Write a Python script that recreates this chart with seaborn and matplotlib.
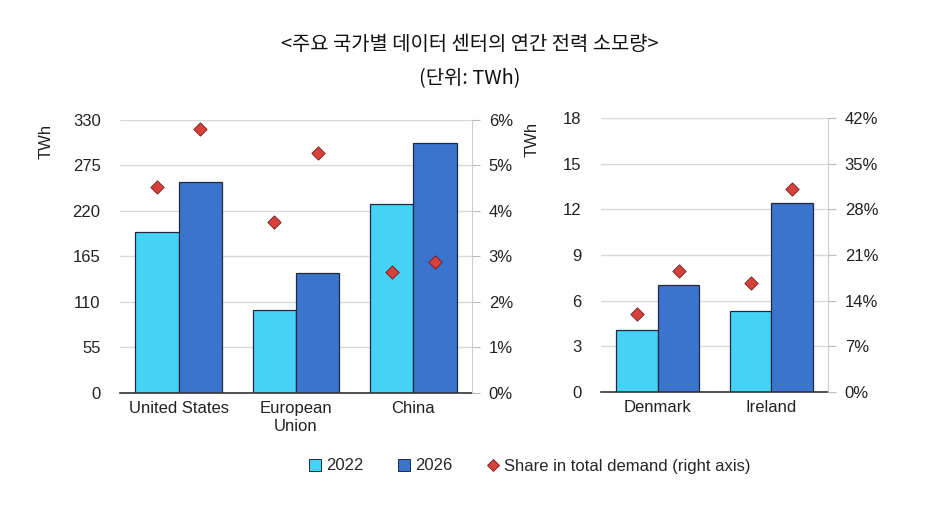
import matplotlib
matplotlib.use('Agg')
import pandas as pd
import matplotlib.pyplot as plt
import seaborn as sns
from matplotlib.patches import Patch
from matplotlib.lines import Line2D

# data
years = ["2022", "2026"]
big_regions = ["United States", "European\nUnion", "China"]
big_twh_2022 = [194, 100, 228]
big_twh_2026 = [255, 145, 302]
big_share_2022 = [4.52, 3.76, 2.66]
big_share_2026 = [5.80, 5.27, 2.87]

small_regions = ["Denmark", "Ireland"]
small_twh_2022 = [4.05, 5.35]
small_twh_2026 = [7.0, 12.4]
small_share_2022 = [11.9, 16.7]
small_share_2026 = [18.5, 31.1]

big_ticks = [0, 55, 110, 165, 220, 275, 330]
big_pct_ticks = [0, 1, 2, 3, 4, 5, 6]
small_ticks = [0, 3, 6, 9, 12, 15, 18]
small_pct_ticks = [0, 7, 14, 21, 28, 35, 42]

c2022 = "#45d2f7"
c2026 = "#3b74cf"
cdiam = "#d8403c"
edge = "#1d2a3c"
grid_c = "#d9d9d9"
txt_c = "#222222"
fs = 12

sns.set_style("white")
plt.rcParams['font.family'] = ['Liberation Sans', 'DejaVu Sans']


def make_df(regions, v22, v26):
    return pd.DataFrame({
        "region": regions * 2,
        "year": [years[0]] * len(regions) + [years[1]] * len(regions),
        "twh": list(v22) + list(v26),
    })


def panel(ax, regions, v22, v26, s22, s26, ticks, pct_ticks, width, label_x):
    df = make_df(regions, v22, v26)
    sns.barplot(data=df, x="region", y="twh", hue="year", order=regions,
                hue_order=years, palette=[c2022, c2026], width=width,
                edgecolor=edge, linewidth=0.9, saturation=1, legend=False, ax=ax)
    ax.set_xlim(-0.5, len(regions) - 0.5)
    ax.set_ylim(ticks[0], ticks[-1])
    ax.set_yticks(ticks)
    ax.set_xlabel("")
    ax.set_ylabel("TWh", fontsize=fs, color=txt_c)
    ax.yaxis.set_label_coords(label_x, 0.92)
    ax.grid(axis="y", color=grid_c, linewidth=1)
    ax.set_axisbelow(True)
    for s in ["left", "top", "right"]:
        ax.spines[s].set_visible(False)
    ax.spines["bottom"].set_color("#333333")
    ax.spines["bottom"].set_linewidth(1.2)
    ax.tick_params(axis="y", length=0, pad=14, labelsize=fs, colors=txt_c)
    ax.tick_params(axis="x", length=0, pad=6, labelsize=fs, colors=txt_c)
    for lab in ax.get_xticklabels():
        lab.set_linespacing(1.2)

    # share of total demand on the right axis, centred on each bar
    ax2 = ax.twinx()
    for cont, shares in zip(ax.containers, [s22, s26]):
        xs = [p.get_x() + p.get_width() / 2 for p in cont]
        ax2.scatter(xs, shares, marker="D", s=46, color=cdiam,
                    edgecolor="#6e1c1a", linewidth=0.6, zorder=5)
    ax2.set_ylim(pct_ticks[0], pct_ticks[-1])
    ax2.set_yticks(pct_ticks)
    ax2.set_yticklabels([f"{t}%" for t in pct_ticks])
    ax2.tick_params(axis="y", length=6, color="#bbbbbb", pad=6,
                    labelsize=fs, labelcolor=txt_c)
    for s in ["left", "top", "bottom"]:
        ax2.spines[s].set_visible(False)
    ax2.spines["right"].set_color("#cccccc")
    ax2.grid(False)
    ax2.set_xlim(-0.5, len(regions) - 0.5)


fig = plt.figure(figsize=(9.4, 5.21), dpi=100)
ax_big = fig.add_axes([0.1277, 0.2457, 0.3745, 0.524])
ax_small = fig.add_axes([0.6394, 0.2476, 0.2415, 0.5259])

panel(ax_big, big_regions, big_twh_2022, big_twh_2026,
      big_share_2022, big_share_2026, big_ticks, big_pct_ticks, 0.74, -0.19)
panel(ax_small, small_regions, small_twh_2022, small_twh_2026,
      small_share_2022, small_share_2026, small_ticks, small_pct_ticks, 0.73, -0.27)

handles = [
    Patch(facecolor=c2022, edgecolor=edge, linewidth=0.7),
    Patch(facecolor=c2026, edgecolor=edge, linewidth=0.7),
    Line2D([], [], marker="D", linestyle="none", markersize=6,
           markerfacecolor=cdiam, markeredgecolor="#6e1c1a", markeredgewidth=0.6),
]
fig.legend(handles, ["2022", "2026", "Share in total demand (right axis)"],
           loc="center", bbox_to_anchor=(530 / 940, 1 - 466 / 521), ncol=3,
           frameon=False, fontsize=fs, handlelength=0.7, handleheight=0.7,
           handletextpad=0.3, columnspacing=2.1)

kr = ['Noto Sans CJK KR', 'DejaVu Sans']
fig.text(0.5, 1 - 45 / 521, "<주요 국가별 데이터 센터의 연간 전력 소모량>",
         ha="center", va="center", fontsize=14.3, family=kr, color="#111111",
         weight="medium")
fig.text(0.5, 1 - 79 / 521, "(단위: TWh)", ha="center", va="center",
         fontsize=14.3, family=kr, color="#111111", weight="medium")

fig.savefig("out.png", dpi=100)
